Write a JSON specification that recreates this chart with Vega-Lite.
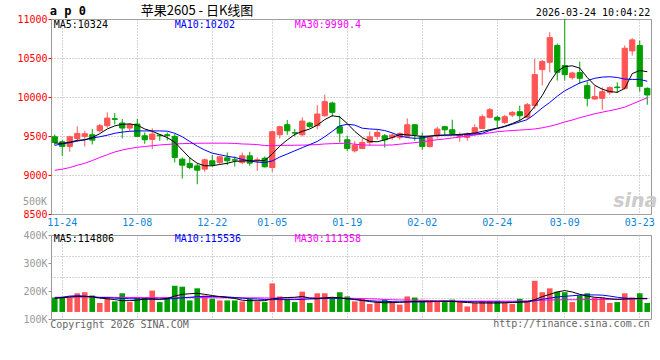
{
"$schema": "https://vega.github.io/schema/vega-lite/v6.json",
"autosize": {"type": "pad"},
"padding": {"left": 16, "top": 4, "right": 6, "bottom": 10},
"background": "#ffffff",
"bounds": "flush",
"spacing": 21,
"config": {
  "view": {"stroke": "#999999", "strokeWidth": 1},
  "axis": {"gridColor": "#aaaaaa", "gridDash": [1, 2], "labelFont": "DejaVu Sans Mono", "labelFontSize": 10, "labelOverlap": false}
},
"datasets": {"k": [
{"d":"2025-11-21","o":9490,"h":9520,"l":9383,"c":9417,"v":123000,"m5":9410,"m10":9380,"m30":9060,"vm5":118000,"vm10":118000,"vm30":125000},
{"d":"2025-11-24","o":9426,"h":9447,"l":9246,"c":9366,"v":123000,"m5":9405,"m10":9400,"m30":9075,"vm5":120000,"vm10":125000,"vm30":125000},
{"d":"2025-11-25","o":9366,"h":9503,"l":9298,"c":9490,"v":123000,"m5":9420,"m10":9415,"m30":9095,"vm5":128000,"vm10":135000,"vm30":126000},
{"d":"2025-11-26","o":9469,"h":9623,"l":9426,"c":9533,"v":159000,"m5":9445,"m10":9435,"m30":9125,"vm5":132000,"vm10":138000,"vm30":126000},
{"d":"2025-11-27","o":9495,"h":9567,"l":9366,"c":9529,"v":168000,"m5":9452,"m10":9450,"m30":9150,"vm5":132000,"vm10":135000,"vm30":126000},
{"d":"2025-11-28","o":9516,"h":9589,"l":9392,"c":9447,"v":140000,"m5":9480,"m10":9475,"m30":9185,"vm5":130000,"vm10":128000,"vm30":126000},
{"d":"2025-12-01","o":9567,"h":9653,"l":9546,"c":9632,"v":76000,"m5":9530,"m10":9490,"m30":9225,"vm5":118000,"vm10":123000,"vm30":125000},
{"d":"2025-12-02","o":9632,"h":9803,"l":9606,"c":9730,"v":123000,"m5":9590,"m10":9510,"m30":9260,"vm5":112000,"vm10":122000,"vm30":125000},
{"d":"2025-12-03","o":9722,"h":9794,"l":9649,"c":9713,"v":90000,"m5":9630,"m10":9535,"m30":9295,"vm5":105000,"vm10":118000,"vm30":124000},
{"d":"2025-12-04","o":9666,"h":9717,"l":9469,"c":9602,"v":159000,"m5":9650,"m10":9550,"m30":9320,"vm5":96000,"vm10":115000,"vm30":124000},
{"d":"2025-12-05","o":9602,"h":9666,"l":9563,"c":9645,"v":84000,"m5":9655,"m10":9560,"m30":9340,"vm5":96000,"vm10":112000,"vm30":123000},
{"d":"2025-12-08","o":9653,"h":9717,"l":9490,"c":9495,"v":118000,"m5":9640,"m10":9565,"m30":9355,"vm5":100000,"vm10":112000,"vm30":123000},
{"d":"2025-12-09","o":9503,"h":9546,"l":9400,"c":9452,"v":123000,"m5":9590,"m10":9565,"m30":9365,"vm5":110000,"vm10":110000,"vm30":122000},
{"d":"2025-12-10","o":9456,"h":9597,"l":9332,"c":9525,"v":182000,"m5":9560,"m10":9565,"m30":9375,"vm5":112000,"vm10":108000,"vm30":122000},
{"d":"2025-12-11","o":9512,"h":9525,"l":9439,"c":9503,"v":84000,"m5":9520,"m10":9565,"m30":9385,"vm5":110000,"vm10":106000,"vm30":122000},
{"d":"2025-12-12","o":9516,"h":9546,"l":9443,"c":9507,"v":123000,"m5":9480,"m10":9562,"m30":9392,"vm5":115000,"vm10":110000,"vm30":122000},
{"d":"2025-12-15","o":9495,"h":9525,"l":9161,"c":9225,"v":223000,"m5":9420,"m10":9535,"m30":9398,"vm5":135000,"vm10":115000,"vm30":122000},
{"d":"2025-12-16","o":9203,"h":9225,"l":8955,"c":9126,"v":215000,"m5":9320,"m10":9490,"m30":9402,"vm5":150000,"vm10":120000,"vm30":122000},
{"d":"2025-12-17","o":9148,"h":9225,"l":9075,"c":9096,"v":98000,"m5":9220,"m10":9430,"m30":9405,"vm5":155000,"vm10":125000,"vm30":122000},
{"d":"2025-12-18","o":9117,"h":9147,"l":8882,"c":9062,"v":201000,"m5":9150,"m10":9370,"m30":9407,"vm5":159000,"vm10":130000,"vm30":122000},
{"d":"2025-12-19","o":9075,"h":9212,"l":9041,"c":9195,"v":140000,"m5":9118,"m10":9320,"m30":9408,"vm5":150000,"vm10":132000,"vm30":122000},
{"d":"2025-12-22","o":9182,"h":9255,"l":9109,"c":9131,"v":112000,"m5":9118,"m10":9280,"m30":9408,"vm5":140000,"vm10":132000,"vm30":121000},
{"d":"2025-12-23","o":9161,"h":9246,"l":9139,"c":9233,"v":98000,"m5":9135,"m10":9260,"m30":9408,"vm5":130000,"vm10":132000,"vm30":121000},
{"d":"2025-12-24","o":9220,"h":9289,"l":9126,"c":9182,"v":98000,"m5":9150,"m10":9240,"m30":9408,"vm5":123000,"vm10":128000,"vm30":121000},
{"d":"2025-12-25","o":9195,"h":9238,"l":9109,"c":9190,"v":98000,"m5":9175,"m10":9225,"m30":9405,"vm5":115000,"vm10":123000,"vm30":120000},
{"d":"2025-12-26","o":9161,"h":9289,"l":9139,"c":9246,"v":90000,"m5":9180,"m10":9200,"m30":9398,"vm5":100000,"vm10":118000,"vm30":120000},
{"d":"2025-12-29","o":9246,"h":9298,"l":9118,"c":9152,"v":112000,"m5":9182,"m10":9180,"m30":9395,"vm5":96000,"vm10":112000,"vm30":120000},
{"d":"2025-12-30","o":9190,"h":9225,"l":9053,"c":9195,"v":90000,"m5":9182,"m10":9165,"m30":9390,"vm5":96000,"vm10":110000,"vm30":120000},
{"d":"2025-12-31","o":9216,"h":9238,"l":9096,"c":9105,"v":84000,"m5":9185,"m10":9160,"m30":9378,"vm5":96000,"vm10":106000,"vm30":119000},
{"d":"2026-01-05","o":9096,"h":9567,"l":9041,"c":9555,"v":243000,"m5":9270,"m10":9180,"m30":9375,"vm5":112000,"vm10":105000,"vm30":119000},
{"d":"2026-01-06","o":9516,"h":9632,"l":9469,"c":9619,"v":132000,"m5":9370,"m10":9230,"m30":9380,"vm5":118000,"vm10":105000,"vm30":119000},
{"d":"2026-01-07","o":9645,"h":9704,"l":9516,"c":9567,"v":112000,"m5":9450,"m10":9270,"m30":9380,"vm5":123000,"vm10":105000,"vm30":119000},
{"d":"2026-01-08","o":9542,"h":9589,"l":9495,"c":9538,"v":84000,"m5":9520,"m10":9310,"m30":9382,"vm5":125000,"vm10":105000,"vm30":119000},
{"d":"2026-01-09","o":9516,"h":9739,"l":9495,"c":9692,"v":173000,"m5":9560,"m10":9350,"m30":9383,"vm5":132000,"vm10":107000,"vm30":119000},
{"d":"2026-01-12","o":9666,"h":9683,"l":9602,"c":9623,"v":76000,"m5":9590,"m10":9390,"m30":9386,"vm5":118000,"vm10":110000,"vm30":119000},
{"d":"2026-01-13","o":9632,"h":9897,"l":9589,"c":9782,"v":159000,"m5":9640,"m10":9430,"m30":9390,"vm5":115000,"vm10":112000,"vm30":119000},
{"d":"2026-01-14","o":9760,"h":10030,"l":9747,"c":9940,"v":159000,"m5":9710,"m10":9490,"m30":9398,"vm5":120000,"vm10":115000,"vm30":119000},
{"d":"2026-01-15","o":9923,"h":9940,"l":9747,"c":9803,"v":123000,"m5":9760,"m10":9560,"m30":9402,"vm5":125000,"vm10":117000,"vm30":118000},
{"d":"2026-01-16","o":9619,"h":9760,"l":9415,"c":9537,"v":168000,"m5":9745,"m10":9630,"m30":9405,"vm5":120000,"vm10":116000,"vm30":118000},
{"d":"2026-01-19","o":9452,"h":9503,"l":9310,"c":9340,"v":132000,"m5":9660,"m10":9650,"m30":9407,"vm5":112000,"vm10":113000,"vm30":117000},
{"d":"2026-01-20","o":9310,"h":9435,"l":9289,"c":9383,"v":90000,"m5":9560,"m10":9640,"m30":9395,"vm5":105000,"vm10":108000,"vm30":116000},
{"d":"2026-01-21","o":9340,"h":9469,"l":9332,"c":9417,"v":112000,"m5":9480,"m10":9600,"m30":9385,"vm5":98000,"vm10":100000,"vm30":114000},
{"d":"2026-01-22","o":9417,"h":9559,"l":9375,"c":9490,"v":68000,"m5":9430,"m10":9590,"m30":9383,"vm5":88000,"vm10":96000,"vm30":112000},
{"d":"2026-01-23","o":9495,"h":9576,"l":9452,"c":9546,"v":90000,"m5":9426,"m10":9585,"m30":9383,"vm5":82000,"vm10":92000,"vm30":110000},
{"d":"2026-01-26","o":9503,"h":9525,"l":9353,"c":9452,"v":105000,"m5":9450,"m10":9570,"m30":9383,"vm5":78000,"vm10":90000,"vm30":106000},
{"d":"2026-01-27","o":9482,"h":9537,"l":9452,"c":9512,"v":84000,"m5":9480,"m10":9540,"m30":9385,"vm5":80000,"vm10":88000,"vm30":104000},
{"d":"2026-01-28","o":9482,"h":9546,"l":9452,"c":9533,"v":62000,"m5":9520,"m10":9500,"m30":9395,"vm5":82000,"vm10":86000,"vm30":102000},
{"d":"2026-01-29","o":9495,"h":9726,"l":9482,"c":9644,"v":132000,"m5":9515,"m10":9480,"m30":9405,"vm5":86000,"vm10":85000,"vm30":101000},
{"d":"2026-01-30","o":9644,"h":9653,"l":9439,"c":9516,"v":123000,"m5":9505,"m10":9470,"m30":9415,"vm5":90000,"vm10":85000,"vm30":100000},
{"d":"2026-02-02","o":9495,"h":9546,"l":9323,"c":9366,"v":95000,"m5":9495,"m10":9475,"m30":9425,"vm5":90000,"vm10":85000,"vm30":99000},
{"d":"2026-02-03","o":9366,"h":9503,"l":9353,"c":9482,"v":95000,"m5":9500,"m10":9495,"m30":9440,"vm5":90000,"vm10":87000,"vm30":98000},
{"d":"2026-02-04","o":9503,"h":9619,"l":9469,"c":9589,"v":90000,"m5":9505,"m10":9510,"m30":9452,"vm5":90000,"vm10":89000,"vm30":96000},
{"d":"2026-02-05","o":9619,"h":9632,"l":9512,"c":9580,"v":84000,"m5":9510,"m10":9512,"m30":9462,"vm5":92000,"vm10":90000,"vm30":95000},
{"d":"2026-02-06","o":9580,"h":9709,"l":9512,"c":9529,"v":105000,"m5":9515,"m10":9512,"m30":9475,"vm5":90000,"vm10":90000,"vm30":94000},
{"d":"2026-02-09","o":9495,"h":9546,"l":9426,"c":9512,"v":84000,"m5":9520,"m10":9512,"m30":9485,"vm5":85000,"vm10":90000,"vm30":93000},
{"d":"2026-02-10","o":9482,"h":9546,"l":9439,"c":9520,"v":47000,"m5":9530,"m10":9520,"m30":9500,"vm5":80000,"vm10":88000,"vm30":92000},
{"d":"2026-02-11","o":9537,"h":9649,"l":9503,"c":9606,"v":76000,"m5":9537,"m10":9525,"m30":9512,"vm5":77000,"vm10":86000,"vm30":92000},
{"d":"2026-02-12","o":9597,"h":9777,"l":9589,"c":9747,"v":95000,"m5":9560,"m10":9535,"m30":9525,"vm5":76000,"vm10":85000,"vm30":92000},
{"d":"2026-02-13","o":9739,"h":9859,"l":9726,"c":9837,"v":95000,"m5":9580,"m10":9570,"m30":9540,"vm5":76000,"vm10":84000,"vm30":92000},
{"d":"2026-02-24","o":9739,"h":9760,"l":9597,"c":9704,"v":95000,"m5":9600,"m10":9595,"m30":9555,"vm5":76000,"vm10":84000,"vm30":92000},
{"d":"2026-02-25","o":9674,"h":9769,"l":9653,"c":9747,"v":76000,"m5":9625,"m10":9620,"m30":9563,"vm5":78000,"vm10":84000,"vm30":92000},
{"d":"2026-02-26","o":9769,"h":9820,"l":9743,"c":9803,"v":68000,"m5":9660,"m10":9650,"m30":9570,"vm5":80000,"vm10":84000,"vm30":92000},
{"d":"2026-02-27","o":9811,"h":9889,"l":9683,"c":9760,"v":112000,"m5":9700,"m10":9680,"m30":9576,"vm5":84000,"vm10":84000,"vm30":93000},
{"d":"2026-03-02","o":9739,"h":9923,"l":9717,"c":9901,"v":95000,"m5":9760,"m10":9710,"m30":9582,"vm5":88000,"vm10":85000,"vm30":94000},
{"d":"2026-03-03","o":9889,"h":10488,"l":9846,"c":10287,"v":265000,"m5":9880,"m10":9780,"m30":9590,"vm5":105000,"vm10":96000,"vm30":98000},
{"d":"2026-03-04","o":10351,"h":10475,"l":10146,"c":10454,"v":168000,"m5":10020,"m10":9860,"m30":9605,"vm5":130000,"vm10":108000,"vm30":100000},
{"d":"2026-03-05","o":10445,"h":10831,"l":10317,"c":10762,"v":201000,"m5":10190,"m10":9930,"m30":9625,"vm5":150000,"vm10":118000,"vm30":102000},
{"d":"2026-03-06","o":10660,"h":10685,"l":10210,"c":10317,"v":173000,"m5":10330,"m10":10010,"m30":9650,"vm5":170000,"vm10":128000,"vm30":103000},
{"d":"2026-03-09","o":10403,"h":11000,"l":10210,"c":10287,"v":168000,"m5":10390,"m10":10080,"m30":9680,"vm5":182000,"vm10":133000,"vm30":104000},
{"d":"2026-03-10","o":10248,"h":10325,"l":10223,"c":10308,"v":84000,"m5":10400,"m10":10130,"m30":9705,"vm5":170000,"vm10":138000,"vm30":104000},
{"d":"2026-03-11","o":10313,"h":10454,"l":10167,"c":10240,"v":140000,"m5":10370,"m10":10180,"m30":9735,"vm5":150000,"vm10":143000,"vm30":104000},
{"d":"2026-03-12","o":10146,"h":10201,"l":9880,"c":9983,"v":159000,"m5":10250,"m10":10210,"m30":9760,"vm5":135000,"vm10":145000,"vm30":105000},
{"d":"2026-03-13","o":9974,"h":10146,"l":9966,"c":10004,"v":123000,"m5":10150,"m10":10240,"m30":9785,"vm5":125000,"vm10":145000,"vm30":105000},
{"d":"2026-03-16","o":9983,"h":10124,"l":9837,"c":10068,"v":123000,"m5":10100,"m10":10255,"m30":9805,"vm5":120000,"vm10":143000,"vm30":106000},
{"d":"2026-03-17","o":10060,"h":10137,"l":10030,"c":10120,"v":76000,"m5":10070,"m10":10260,"m30":9825,"vm5":112000,"vm10":135000,"vm30":107000},
{"d":"2026-03-18","o":10128,"h":10188,"l":10051,"c":10120,"v":84000,"m5":10060,"m10":10250,"m30":9845,"vm5":107000,"vm10":125000,"vm30":108000},
{"d":"2026-03-19","o":10111,"h":10660,"l":10094,"c":10625,"v":159000,"m5":10110,"m10":10230,"m30":9870,"vm5":110000,"vm10":118000,"vm30":109000},
{"d":"2026-03-20","o":10591,"h":10754,"l":10531,"c":10732,"v":123000,"m5":10300,"m10":10225,"m30":9910,"vm5":112000,"vm10":115000,"vm30":110000},
{"d":"2026-03-23","o":10660,"h":10724,"l":10068,"c":10137,"v":159000,"m5":10340,"m10":10225,"m30":9950,"vm5":115000,"vm10":115000,"vm30":111000},
{"d":"2026-03-24","o":10111,"h":10124,"l":9901,"c":10026,"v":76000,"m5":10324,"m10":10202,"m30":9990,"vm5":115000,"vm10":115000,"vm30":111000}
]},
"vconcat": [
{
  "width": 600, "height": 195,
  "data": {"name": "k"},
  "encoding": {
    "x": {"field": "d", "type": "ordinal", "scale": {"type": "band", "paddingInner": 0, "paddingOuter": 0},
      "axis": {"values": ["2025-11-24","2025-12-08","2025-12-22","2026-01-05","2026-01-19","2026-02-02","2026-02-24","2026-03-09","2026-03-23"],
        "labelExpr": "substring(datum.value,5,10)", "labelColor": "#0d85d8", "labelAngle": 0, "ticks": false, "domain": false,
        "grid": true, "bandPosition": 0.5, "labelPadding": 3, "title": null}}
  },
  "resolve": {"scale": {"y": "independent"}, "axis": {"y": "independent"}},
  "layer": [
    {"mark": {"type": "point", "opacity": 0},
     "encoding": {
       "y": {"field": "c", "type": "quantitative", "title": null, "scale": {"domain": [8500, 11000], "nice": false, "zero": false},
         "axis": {"orient": "left", "values": [8500, 9000, 9500, 10000, 10500, 11000], "format": "d",
           "labelColor": "#ff0000", "tickColor": "#ff0000", "tickSize": 3, "labelPadding": 1, "labelOverlap": false, "domain": false, "grid": true, "title": null}}
     }},
    {"mark": {"type": "rule", "strokeWidth": 1},
     "encoding": {
       "y": {"field": "l", "type": "quantitative", "title": null, "scale": {"domain": [8500, 11000], "nice": false, "zero": false}, "axis": null},
       "y2": {"field": "h"},
       "color": {"condition": {"test": "datum.c >= datum.o", "value": "#ff5555"}, "value": "#009f00"}
     }},
    {"mark": {"type": "bar", "width": {"band": 0.7}, "strokeWidth": 1},
     "encoding": {
       "y": {"field": "o", "type": "quantitative", "title": null, "scale": {"domain": [8500, 11000], "nice": false, "zero": false}, "axis": null},
       "y2": {"field": "c"},
       "color": {"condition": {"test": "datum.c >= datum.o", "value": "#ff5555"}, "value": "#009f00"},
       "stroke": {"condition": {"test": "datum.c >= datum.o", "value": "#ff5555"}, "value": "#009f00"}
     }},
    {"mark": {"type": "line", "color": "#ff00ff", "strokeWidth": 1},
     "encoding": {"y": {"field": "m30", "type": "quantitative", "title": null, "scale": {"domain": [8500, 11000], "nice": false, "zero": false}, "axis": null}}},
    {"mark": {"type": "line", "color": "#0000ff", "strokeWidth": 1},
     "encoding": {"y": {"field": "m10", "type": "quantitative", "title": null, "scale": {"domain": [8500, 11000], "nice": false, "zero": false}, "axis": null}}},
    {"mark": {"type": "line", "color": "#000000", "strokeWidth": 1},
     "encoding": {"y": {"field": "m5", "type": "quantitative", "title": null, "scale": {"domain": [8500, 11000], "nice": false, "zero": false}, "axis": null}}},
    {"data": {"values": [{}]},
     "mark": {"type": "text", "text": "500K", "font": "DejaVu Sans Mono", "fontSize": 10, "color": "#999999", "align": "right", "baseline": "middle", "dx": -7.75},
     "encoding": {"x": {"datum": "2025-11-21", "type": "ordinal"}, "y": {"datum": 8650, "scale": {"domain": [8500, 11000], "nice": false, "zero": false}, "axis": null}}},
    {"data": {"values": [{}]},
     "mark": {"type": "text", "text": "sina", "font": "DejaVu Sans", "fontSize": 19, "fontStyle": "italic", "fontWeight": "bold", "color": "#cccccc", "align": "center", "baseline": "middle", "dx": 3},
     "encoding": {"x": {"datum": "2026-03-20", "type": "ordinal"}, "y": {"datum": 8667, "scale": {"domain": [8500, 11000], "nice": false, "zero": false}, "axis": null}}},
    {"data": {"values": [{}]},
     "mark": {"type": "text", "text": "a p 0", "font": "DejaVu Sans Mono", "fontSize": 12, "fontWeight": "bold", "color": "#000000", "align": "left", "baseline": "middle", "dx": -5},
     "encoding": {"x": {"datum": "2025-11-21", "type": "ordinal"}, "y": {"datum": 11103, "scale": {"domain": [8500, 11000], "nice": false, "zero": false}, "axis": null}}},
    {"data": {"values": [{}]},
     "mark": {"type": "text", "text": "苹果2605 - 日K线图", "font": "Noto Sans CJK SC", "fontSize": 13, "color": "#000000", "align": "left", "baseline": "middle", "dx": -4},
     "encoding": {"x": {"datum": "2025-12-09", "type": "ordinal"}, "y": {"datum": 11103, "scale": {"domain": [8500, 11000], "nice": false, "zero": false}, "axis": null}}},
    {"data": {"values": [{}]},
     "mark": {"type": "text", "text": "2026-03-24 10:04:22", "font": "DejaVu Sans Mono", "fontSize": 10, "color": "#000000", "align": "right", "baseline": "middle", "dx": 3},
     "encoding": {"x": {"datum": "2026-03-24", "type": "ordinal"}, "y": {"datum": 11077, "scale": {"domain": [8500, 11000], "nice": false, "zero": false}, "axis": null}}},
    {"data": {"values": [{}]},
     "mark": {"type": "text", "text": "MA5:10324", "font": "DejaVu Sans Mono", "fontSize": 10, "color": "#000000", "align": "left", "baseline": "middle", "dx": -1},
     "encoding": {"x": {"datum": "2025-11-21", "type": "ordinal"}, "y": {"datum": 10923, "scale": {"domain": [8500, 11000], "nice": false, "zero": false}, "axis": null}}},
    {"data": {"values": [{}]},
     "mark": {"type": "text", "text": "MA10:10202", "font": "DejaVu Sans Mono", "fontSize": 10, "color": "#0000ff", "align": "left", "baseline": "middle", "dx": 0},
     "encoding": {"x": {"datum": "2025-12-15", "type": "ordinal"}, "y": {"datum": 10923, "scale": {"domain": [8500, 11000], "nice": false, "zero": false}, "axis": null}}},
    {"data": {"values": [{}]},
     "mark": {"type": "text", "text": "MA30:9990.4", "font": "DejaVu Sans Mono", "fontSize": 10, "color": "#ff00ff", "align": "left", "baseline": "middle", "dx": 0},
     "encoding": {"x": {"datum": "2026-01-08", "type": "ordinal"}, "y": {"datum": 10923, "scale": {"domain": [8500, 11000], "nice": false, "zero": false}, "axis": null}}}
  ]
},
{
  "width": 600, "height": 84,
  "data": {"name": "k"},
  "encoding": {
    "x": {"field": "d", "type": "ordinal", "scale": {"type": "band", "paddingInner": 0, "paddingOuter": 0},
      "axis": {"values": ["2025-11-24","2025-12-08","2025-12-22","2026-01-05","2026-01-19","2026-02-02","2026-02-24","2026-03-09","2026-03-23"],
        "labels": false, "ticks": false, "domain": false, "grid": true, "bandPosition": 0.5, "title": null}}
  },
  "resolve": {"scale": {"y": "independent"}, "axis": {"y": "independent"}},
  "layer": [
    {"mark": {"type": "bar", "width": {"band": 0.75}},
     "encoding": {
       "y": {"field": "v", "type": "quantitative", "title": null, "scale": {"domain": [-60000, 655000], "nice": false, "zero": false},
         "axis": {"orient": "left", "values": [118750, 297500, 476250], "labels": false, "ticks": false, "domain": false, "grid": true, "title": null}},
       "y2": {"datum": 0},
       "color": {"condition": {"test": "datum.c >= datum.o", "value": "#ff5555"}, "value": "#009f00"}
     }},
    {"mark": {"type": "line", "color": "#ff00ff", "strokeWidth": 1},
     "encoding": {"y": {"field": "vm30", "type": "quantitative", "title": null, "scale": {"domain": [-60000, 655000], "nice": false, "zero": false}, "axis": null}}},
    {"mark": {"type": "line", "color": "#0000ff", "strokeWidth": 1},
     "encoding": {"y": {"field": "vm10", "type": "quantitative", "title": null, "scale": {"domain": [-60000, 655000], "nice": false, "zero": false}, "axis": null}}},
    {"mark": {"type": "line", "color": "#000000", "strokeWidth": 1},
     "encoding": {"y": {"field": "vm5", "type": "quantitative", "title": null, "scale": {"domain": [-60000, 655000], "nice": false, "zero": false}, "axis": null}}},
    {"mark": {"type": "point", "opacity": 0},
     "encoding": {"y": {"field": "v", "type": "quantitative", "title": null, "scale": {"domain": [100000, 400000], "nice": false, "zero": false},
       "axis": {"orient": "left", "values": [100000, 200000, 300000, 400000], "labelExpr": "format(datum.value/1000,'d') + 'K'",
         "labelColor": "#999999", "tickColor": "#999999", "tickSize": 3, "labelPadding": 1, "labelOverlap": false, "grid": false, "domain": false, "title": null}}}},
    {"data": {"values": [{}]},
     "mark": {"type": "text", "text": "MA5:114806", "font": "DejaVu Sans Mono", "fontSize": 10, "color": "#000000", "align": "left", "baseline": "middle", "dx": -1},
     "encoding": {"x": {"datum": "2025-11-21", "type": "ordinal"}, "y": {"datum": 621000, "scale": {"domain": [-60000, 655000], "nice": false, "zero": false}, "axis": null}}},
    {"data": {"values": [{}]},
     "mark": {"type": "text", "text": "MA10:115536", "font": "DejaVu Sans Mono", "fontSize": 10, "color": "#0000ff", "align": "left", "baseline": "middle", "dx": 0},
     "encoding": {"x": {"datum": "2025-12-15", "type": "ordinal"}, "y": {"datum": 621000, "scale": {"domain": [-60000, 655000], "nice": false, "zero": false}, "axis": null}}},
    {"data": {"values": [{}]},
     "mark": {"type": "text", "text": "MA30:111358", "font": "DejaVu Sans Mono", "fontSize": 10, "color": "#ff00ff", "align": "left", "baseline": "middle", "dx": 0},
     "encoding": {"x": {"datum": "2026-01-08", "type": "ordinal"}, "y": {"datum": 621000, "scale": {"domain": [-60000, 655000], "nice": false, "zero": false}, "axis": null}}},
    {"data": {"values": [{}]},
     "mark": {"type": "text", "text": "Copyright 2026 SINA.COM", "font": "DejaVu Sans Mono", "fontSize": 10, "color": "#666666", "align": "left", "baseline": "middle", "dx": -4.5},
     "encoding": {"x": {"datum": "2025-11-21", "type": "ordinal"}, "y": {"datum": -111000, "scale": {"domain": [-60000, 655000], "nice": false, "zero": false}, "axis": null}}},
    {"data": {"values": [{}]},
     "mark": {"type": "text", "text": "http://finance.sina.com.cn", "font": "DejaVu Sans Mono", "fontSize": 10, "color": "#666666", "align": "right", "baseline": "middle", "dx": 2.5},
     "encoding": {"x": {"datum": "2026-03-24", "type": "ordinal"}, "y": {"datum": -104000, "scale": {"domain": [-60000, 655000], "nice": false, "zero": false}, "axis": null}}}
  ]
}
]
}
